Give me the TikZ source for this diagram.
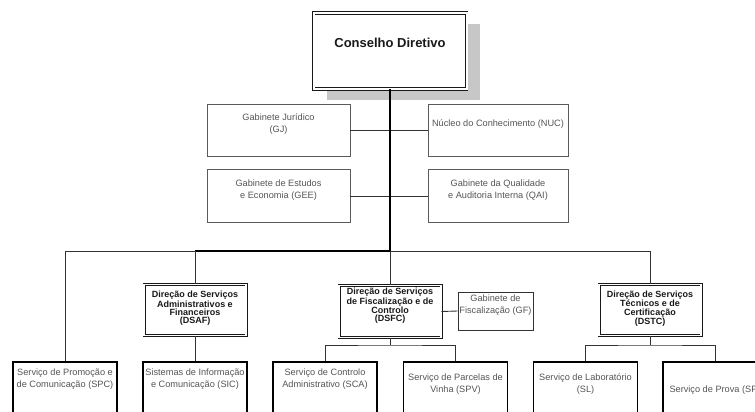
\documentclass[tikz,border=0pt]{standalone}
\usepackage{fontspec}
\setmainfont{Liberation Sans}
\usepackage{xcolor}
\usepackage{tikz}
\usetikzlibrary{shadows}

\definecolor{boxgray}{HTML}{5A5A5A}
\definecolor{textgray}{HTML}{555555}
\definecolor{wiregray}{HTML}{333333}

\begin{document}
\begin{tikzpicture}[x=1pt, y=-1pt,
		topbox/.style={shape=rectangle, draw=boxgray, line width=0.8pt, fill=white, inner sep=0pt},
		chiefbox/.style={shape=rectangle, draw=black!90, double=white, line width=0.75pt, double distance=1.5pt, fill=white, inner sep=0pt},
		servbox/.style={shape=rectangle, draw=black, line width=1.4pt, fill=white, inner sep=0pt},
		boxtxt/.style={align=center, text=textgray, inner sep=0pt, font=\fontsize{9.2}{12}\selectfont},
		chieftxt/.style={align=center, text=black!90, inner sep=0pt, font=\fontsize{9}{8.3}\selectfont\bfseries},
		wire/.style={draw=wiregray, line width=0.9pt},
		mainwire/.style={draw=black, line width=2pt}]
		\useasboundingbox (0, 0) rectangle (755, 412);
		% Boxes and texts:
		\node[chiefbox, line width=0.9pt, double distance=2pt, minimum width=153pt, minimum height=76pt, drop shadow={shadow xshift=13pt, shadow yshift=-11pt, fill=black!22, opacity=1}] (cd) at (390, 51){}
			node[font=\fontsize{13}{15}\selectfont\bfseries, text=black!90, inner sep=0pt] (cd-t) at (390, 43){Conselho Diretivo};
		\node[topbox, minimum width=143pt, minimum height=52pt] (gj) at (278.5, 130){}
			node[boxtxt] (gj-t) at (278.5, 124.5){Gabinete Jurídico\\(GJ)};
		\node[topbox, minimum width=140pt, minimum height=52pt] (nuc) at (498, 130){}
			node[boxtxt] (nuc-t) at (498, 124.5){Núcleo do Conhecimento (NUC)};
		\node[topbox, minimum width=143pt, minimum height=53pt] (gee) at (278.5, 196){}
			node[boxtxt] (gee-t) at (278.5, 190.5){Gabinete de Estudos\\e Economia (GEE)};
		\node[topbox, minimum width=140pt, minimum height=53pt] (qai) at (498, 196){}
			node[boxtxt] (qai-t) at (498, 190.5){Gabinete da Qualidade\\e Auditoria Interna (QAI)};
		\node[chiefbox, minimum width=102pt, minimum height=51pt] (dsaf) at (195, 310){}
			node[chieftxt] (dsaf-t) at (195, 308.5){Direção de Serviços\\Administrativos e\\Financeiros\\(DSAF)};
		\node[chiefbox, minimum width=102pt, minimum height=52pt] (dsfc) at (390, 311.5){}
			node[chieftxt] (dsfc-t) at (390, 306){Direção de Serviços\\de Fiscalização e de\\Controlo\\(DSFC)};
		\node[chiefbox, minimum width=102pt, minimum height=51pt] (dstc) at (650, 310){}
			node[chieftxt] (dstc-t) at (650, 308.5){Direção de Serviços\\Técnicos e de\\Certificação\\(DSTC)};
		\node[topbox, draw=black!80, minimum width=75pt, minimum height=38pt] (gf) at (495.5, 311){}
			node[boxtxt] (gf-t) at (495.5, 305.5){Gabinete de\\Fiscalização (GF)};
		\node[servbox, minimum width=104pt, minimum height=68pt] (spc) at (65, 396){}
			node[boxtxt] (spc-t) at (65, 379){Serviço de Promoção e\\de Comunicação (SPC)};
		\node[servbox, minimum width=104pt, minimum height=68pt] (sic) at (195, 396){}
			node[boxtxt] (sic-t) at (195, 379){Sistemas de Informação\\e Comunicação (SIC)};
		\node[servbox, minimum width=104pt, minimum height=68pt] (sca) at (325, 396){}
			node[boxtxt] (sca-t) at (325, 379){Serviço de Controlo\\Administrativo (SCA)};
		\node[servbox, minimum width=104pt, minimum height=68pt] (spv) at (455.5, 396){}
			node[boxtxt] (spv-t) at (455.5, 384){Serviço de Parcelas de\\Vinha (SPV)};
		\node[servbox, minimum width=104pt, minimum height=68pt] (sl) at (585.5, 396){}
			node[boxtxt] (sl-t) at (585.5, 384){Serviço de Laboratório\\(SL)};
		\node[servbox, minimum width=104pt, minimum height=68pt] (sp) at (715, 396){}
			node[boxtxt] (sp-t) at (715, 390){Serviço de Prova (SP)};
		% Wires:
		\coordinate (bus) at (390, 251);
		\coordinate (dsfc-fork) at (390, 345);
		\coordinate (dstc-fork) at (650, 345);
		\draw[wire] (gj.east) -- (nuc.west);
		\draw[wire] (gee.east) -- (qai.west);
		\draw[mainwire] (cd.south) -- (bus);
		\draw[wire] (bus -| dsaf.north) -| (spc.north);
		\draw[wire, line width=1.5pt, draw=black] (bus) -- (bus -| dsaf.north);
		\draw[wire] (bus -| dsaf.north) -- (dsaf.north);
		\draw[wire] (bus) -- (dsfc.north);
		\draw[wire] (bus) -| (dstc.north);
		\draw[wire] (dsfc.east) -- (gf.west);
		\draw[wire] (dsaf.south) -- (sic.north);
		\draw[wire] (dsfc.south) -- (dsfc-fork);
		\draw[wire] (sca.north) |- (dsfc-fork) -| (spv.north);
		\draw[wire] (dstc.south) -- (dstc-fork);
		\draw[wire] (sl.north) |- (dstc-fork) -| (sp.north);
	\end{tikzpicture}
\end{document}
